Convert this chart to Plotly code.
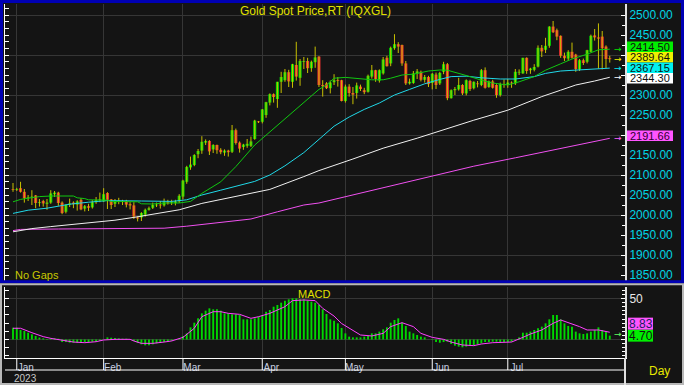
import plotly.graph_objects as go

# ---------------- data ----------------
months = ["Jan", "Feb", "Mar", "Apr", "May", "Jun", "Jul"]
month_idx = [1, 24, 45, 66, 88, 111, 131]

opens = [2065, 2063, 2067, 2058, 2042, 2044, 2049, 2030, 2035, 2028,
         2031, 2052, 2056, 2031, 2008, 2026, 2031, 2026, 2038, 2016,
         2022, 2019, 2032, 2037, 2034, 2055, 2039, 2028, 2035, 2033,
         2035, 2027, 2024, 1994, 1994, 2001, 2013, 2018, 2024, 2026,
         2024, 2032, 2030, 2030, 2034, 2046, 2083, 2119, 2125, 2152,
         2161, 2181, 2185, 2164, 2175, 2163, 2156, 2161, 2158, 2212,
         2181, 2170, 2173, 2173, 2190, 2233, 2233, 2250, 2281, 2302,
         2290, 2333, 2337, 2357, 2333, 2375, 2343, 2383, 2385, 2367,
         2382, 2396, 2325, 2329, 2317, 2332, 2337, 2337, 2285, 2321,
         2305, 2305, 2321, 2312, 2308, 2346, 2362, 2336, 2354, 2393,
         2379, 2417, 2427, 2425, 2379, 2329, 2330, 2354, 2358, 2338,
         2345, 2330, 2351, 2329, 2358, 2377, 2292, 2312, 2314, 2325,
         2304, 2335, 2317, 2329, 2325, 2362, 2320, 2334, 2325, 2300,
         2327, 2326, 2331, 2329, 2356, 2354, 2393, 2362, 2363, 2371,
         2418, 2413, 2423, 2471, 2462, 2448, 2398, 2391, 2408, 2401,
         2364, 2387, 2383, 2408, 2449, 2444, 2446, 2421, 2392]
highs = [2080, 2068, 2083, 2065, 2050, 2062, 2050, 2040, 2038, 2040,
         2062, 2060, 2058, 2034, 2026, 2041, 2034, 2037, 2042, 2025,
         2028, 2037, 2045, 2056, 2067, 2057, 2040, 2040, 2043, 2038,
         2038, 2032, 2032, 1996, 2007, 2016, 2021, 2031, 2031, 2035,
         2041, 2038, 2038, 2038, 2052, 2088, 2123, 2146, 2152, 2165,
         2197, 2189, 2187, 2177, 2176, 2167, 2164, 2163, 2225, 2216,
         2184, 2178, 2190, 2196, 2238, 2235, 2265, 2283, 2304, 2304,
         2333, 2358, 2365, 2363, 2378, 2433, 2390, 2395, 2393, 2386,
         2421, 2397, 2337, 2332, 2336, 2352, 2345, 2338, 2326, 2327,
         2320, 2331, 2326, 2318, 2351, 2375, 2363, 2364, 2395, 2398,
         2421, 2452, 2432, 2426, 2385, 2341, 2360, 2365, 2361, 2350,
         2348, 2355, 2356, 2358, 2383, 2380, 2314, 2320, 2343, 2327,
         2339, 2338, 2334, 2335, 2365, 2369, 2336, 2338, 2327, 2331,
         2339, 2340, 2334, 2365, 2364, 2393, 2394, 2368, 2377, 2424,
         2425, 2443, 2472, 2485, 2466, 2449, 2406, 2412, 2431, 2403,
         2390, 2391, 2413, 2451, 2465, 2479, 2460, 2424, 2398]
lows = [2058, 2060, 2056, 2031, 2035, 2025, 2017, 2021, 2021, 2013,
        2028, 2045, 2023, 2002, 2004, 2020, 2017, 2011, 2012, 2009,
        2010, 2016, 2028, 2032, 2033, 2015, 2015, 2020, 2027, 2025,
        2019, 2014, 1990, 1984, 1985, 1996, 2011, 2015, 2020, 2016,
        2021, 2026, 2025, 2024, 2030, 2039, 2078, 2113, 2122, 2142,
        2153, 2175, 2150, 2155, 2153, 2152, 2148, 2146, 2155, 2176,
        2156, 2163, 2168, 2170, 2188, 2230, 2229, 2243, 2274, 2281,
        2268, 2305, 2333, 2320, 2318, 2336, 2323, 2365, 2355, 2358,
        2368, 2320, 2296, 2315, 2304, 2325, 2321, 2284, 2281, 2296,
        2277, 2291, 2310, 2302, 2306, 2341, 2333, 2331, 2351, 2371,
        2372, 2413, 2405, 2373, 2325, 2326, 2328, 2340, 2334, 2331,
        2320, 2314, 2315, 2325, 2352, 2287, 2291, 2300, 2311, 2300,
        2299, 2310, 2314, 2319, 2322, 2316, 2318, 2316, 2293, 2296,
        2318, 2318, 2318, 2325, 2350, 2353, 2353, 2353, 2359, 2369,
        2395, 2405, 2418, 2455, 2437, 2393, 2385, 2385, 2391, 2358,
        2360, 2375, 2379, 2407, 2436, 2366, 2364, 2367, 2381]
closes = [2063, 2064, 2058, 2042, 2044, 2046, 2030, 2032, 2029, 2031,
          2054, 2056, 2030, 2005, 2026, 2029, 2027, 2034, 2014, 2022,
          2018, 2032, 2037, 2039, 2052, 2038, 2025, 2036, 2034, 2035,
          2026, 2024, 1996, 1991, 2005, 2013, 2017, 2025, 2026, 2024,
          2032, 2029, 2031, 2034, 2048, 2086, 2120, 2126, 2150, 2160,
          2183, 2185, 2159, 2175, 2162, 2157, 2161, 2157, 2212, 2180,
          2166, 2176, 2178, 2184, 2236, 2232, 2264, 2282, 2302, 2295,
          2333, 2345, 2357, 2334, 2377, 2346, 2385, 2383, 2367, 2383,
          2394, 2325, 2322, 2317, 2331, 2337, 2335, 2285, 2321, 2305,
          2301, 2324, 2315, 2307, 2348, 2362, 2340, 2362, 2389, 2372,
          2418, 2427, 2421, 2379, 2329, 2333, 2354, 2359, 2338, 2345,
          2327, 2353, 2325, 2355, 2377, 2292, 2312, 2315, 2325, 2304,
          2337, 2315, 2333, 2327, 2362, 2318, 2334, 2318, 2300, 2327,
          2325, 2331, 2329, 2358, 2357, 2393, 2360, 2366, 2370, 2418,
          2409, 2423, 2471, 2457, 2446, 2398, 2392, 2408, 2393, 2365,
          2387, 2380, 2412, 2448, 2444, 2441, 2417, 2390, 2389.64]

green_ma_idx = [0, 2, 4, 7, 10, 16, 17, 19, 20, 25, 26, 33, 34, 37, 40, 44, 47, 50, 55, 59,
                64, 68, 72, 77, 81, 83, 85, 88, 92, 95, 98, 100, 103, 106, 110, 113, 115, 117,
                118, 121, 124, 127, 131, 134, 138, 141, 145, 148, 152, 155, 158]
green_ma_val = [2033, 2039, 2042, 2046, 2047.5, 2047.5, 2043, 2041, 2038, 2037, 2034, 2033,
                2028, 2027.5, 2030, 2030, 2034, 2054, 2083, 2121, 2175, 2208, 2242, 2281, 2314,
                2325, 2342, 2344, 2340, 2338, 2338, 2342, 2350, 2352, 2360, 2362.5, 2362, 2357,
                2354, 2346, 2337, 2330, 2325, 2333, 2346, 2362, 2378, 2390, 2402, 2413, 2414.50]
cyan_ma_idx = [0, 4, 9, 15, 20, 25, 34, 42, 46, 50, 55, 59, 64, 68, 72, 77, 81, 85, 89, 93,
               97, 101, 105, 109, 113, 116, 120, 124, 129, 133, 138, 141, 145, 148, 152, 155, 158]
cyan_ma_val = [2004, 2012, 2017, 2027, 2032, 2036, 2035, 2034, 2038, 2050, 2062, 2072, 2084,
               2100, 2123, 2156, 2190, 2222, 2245, 2264, 2280, 2300, 2314, 2328, 2339, 2346,
               2347, 2343, 2340, 2340, 2346, 2354, 2360, 2362, 2363, 2366, 2367.15]
white_ma_idx = [0, 5, 10, 16, 22, 27, 32, 37, 40, 44, 50, 59, 68, 77, 81, 90, 98, 107, 115,
                122, 131, 135, 140, 145, 149, 154, 158]
white_ma_val = [1958, 1966, 1971, 1977, 1982, 1987, 1994, 2002, 2008, 2013, 2029, 2046, 2064,
                2096, 2111, 2140, 2167, 2192, 2217, 2237, 2262, 2277, 2296, 2312, 2325, 2335,
                2344.30]
magenta_ma_idx = [0, 2, 12, 40, 46, 52, 63, 70, 77, 81, 92, 102, 112, 122, 133, 145, 152, 158]
magenta_ma_val = [1961, 1964, 1965, 1967, 1972, 1979, 1990, 2008, 2025, 2030, 2055, 2077, 2100,
                  2122, 2143, 2167, 2180, 2191.66]

macd = [14.4, 14.4, 11.6, 10.4, 8.3, 6.3, 4.3, 2.3, 1.4, -0.6,
        1.4, 1.4, 1.0, -3.1, -3.1, -3.9, -3.9, -3.9, -3.5, -3.1,
        -3.1, -2.7, -2.7, -1.5, 0.2, 2.6, 2.2, 1.8, 1.4, 1.0,
        1.0, 0.2, -1.8, -3.9, -5.9, -7.1, -7.1, -5.9, -4.7, -3.9,
        -3.1, -2.3, -1.5, 0.2, 1.0, 4.3, 7.5, 14.8, 20.5, 25.8,
        31.9, 35.2, 38.0, 36.8, 36.8, 35.2, 31.9, 31.9, 30.7, 30.7,
        29.9, 24.6, 24.6, 24.6, 25.8, 27.8, 29.5, 33.9, 36.0, 40.0,
        42.1, 44.9, 47.4, 49.0, 50.2, 50.2, 49.0, 49.0, 47.4, 46.1,
        44.9, 42.1, 36.8, 31.1, 24.6, 23.0, 19.7, 14.0, 7.5, 3.5,
        2.6, 2.6, 2.6, 3.5, 4.3, 7.5, 7.5, 9.6, 12.4, 14.8,
        20.5, 23.8, 25.8, 20.5, 16.5, 9.6, 7.5, 5.5, 3.5, 2.6,
        0.2, -0.6, -3.1, -3.9, -3.1, -2.7, -5.5, -7.5, -8.7, -9.5,
        -8.7, -7.9, -7.1, -5.9, -4.7, -3.1, -3.1, -2.7, -2.7, -3.1,
        -3.1, -3.1, -2.7, -0.6, 2.6, 8.3, 8.3, 9.6, 11.6, 13.6,
        15.7, 19.7, 24.6, 29.9, 29.9, 24.6, 19.7, 16.5, 15.7, 9.6,
        7.5, 6.7, 7.5, 9.6, 11.6, 14.8, 11.6, 9.6, 4.70]
signal_idx = [0, 2, 5, 8, 10, 12, 16, 19, 22, 24, 27, 31, 32, 34, 37, 40, 42, 45, 48, 50,
              53, 55, 57, 60, 63, 65, 68, 72, 74, 77, 80, 82, 85, 87, 90, 92, 95, 98, 100, 103,
              106, 108, 111, 114, 116, 119, 122, 124, 127, 129, 132, 135, 137, 140, 143, 145,
              147, 150, 152, 155, 158]
signal_val = [13.7, 13.7, 8.3, 3.5, 1.4, 0.2, -3.1, -3.9, -2.7, -0.6, 0.2, 0.2, -1.8, -4.7,
              -4.7, -3.1, -1.8, 2.6, 13.7, 27.8, 33.9, 33.9, 31.9, 30.7, 25.8, 27.8, 31.9,
              40.0, 47.4, 48.2, 47.4, 38.0, 28.6, 19.5, 11.6, 5.5, 4.3, 7.5, 15.7, 20.5, 15.7,
              7.5, 2.6, 0.2, -3.1, -6.7, -7.5, -5.5, -3.9, -3.9, -3.1, 2.6, 6.7, 11.6, 19.7,
              23.8, 20.9, 15.7, 11.6, 11.6, 8.83]

price_ticks = [1850, 1900, 1950, 2000, 2050, 2100, 2150, 2200, 2250, 2300, 2350, 2400, 2450, 2500]
macd_ticks = [0, 50]

# ---------------- geometry helpers ----------------
W, H = 684, 385
def px(x):
    return x / W
def py(y):
    return 1 - y / H

X0_PX, X1_PX = 5, 625
BAR0_PX, BAR_STEP = 13, 3.777
x_range = [(X0_PX - BAR0_PX) / BAR_STEP, (X1_PX - BAR0_PX) / BAR_STEP]

P_TOP, P_BOT = 4, 281
price_range = [2500 - (P_BOT - 15) / 0.4, 2500 + (15 - P_TOP) / 0.4]
M_TOP, M_BOT = 287, 358
macd_range = [(339.5 - M_BOT) / 0.82, (339.5 - M_TOP) / 0.82]

def price_py(v):
    return P_BOT - (v - price_range[0]) / (price_range[1] - price_range[0]) * (P_BOT - P_TOP)
def macd_py(v):
    return M_BOT - (v - macd_range[0]) / (macd_range[1] - macd_range[0]) * (M_BOT - M_TOP)

BG = "#141414"
GRID = "#363636"
FONT = "Liberation Sans, Arial, sans-serif"
UP, DOWN, WICK = "#00e000", "#f03030", "#c8c000"
C_GREEN, C_CYAN, C_WHITE, C_MAG = "#10c810", "#20d8e8", "#f0f0f0", "#f050f0"

idx = list(range(len(closes)))

# value tags (right-hand boxes), stacked so they do not collide
price_tags = [(green_ma_val[-1], "#00ee00", UP), (closes[-1], "#f0f000", "#f0f000"),
              (cyan_ma_val[-1], "#00f0f0", "#00e8f0"), (white_ma_val[-1], "#ffffff", "#ffffff"),
              (magenta_ma_val[-1], "#ff55ff", "#ff60ff")]
TAG_H = 10.5
tag_centers = []
for v, _, _ in price_tags:
    c = price_py(v) - 2.5
    if tag_centers and c < tag_centers[-1] + TAG_H:
        c = tag_centers[-1] + TAG_H
    tag_centers.append(c)

def hidden(v):
    # tick label covered by a value box
    return any(abs(price_py(v) - c) < 5 for c in tag_centers)
price_ticktext = ["" if hidden(v) else f"{v:.2f}" for v in price_ticks]

fig = go.Figure()

# wicks
wx, wy = [], []
for i, (lo, hi) in enumerate(zip(lows, highs)):
    wx += [i, i, None]
    wy += [lo, hi, None]
fig.add_trace(go.Scatter(x=wx, y=wy, mode="lines", line=dict(color=WICK, width=1),
                         hoverinfo="skip", showlegend=False, xaxis="x", yaxis="y"))
# bodies
base = [min(o, c) for o, c in zip(opens, closes)]
height = [max(abs(c - o), 2) for o, c in zip(opens, closes)]
colors = [UP if c >= o else DOWN for o, c in zip(opens, closes)]
fig.add_trace(go.Bar(x=idx, y=height, base=base, width=0.8, marker=dict(color=colors, line=dict(width=0)),
                     showlegend=False, xaxis="x", yaxis="y"))
# moving averages
for xs, ys, col in [(magenta_ma_idx, magenta_ma_val, C_MAG), (white_ma_idx, white_ma_val, C_WHITE),
                    (cyan_ma_idx, cyan_ma_val, C_CYAN), (green_ma_idx, green_ma_val, C_GREEN)]:
    fig.add_trace(go.Scatter(x=xs, y=ys, mode="lines", line=dict(color=col, width=1),
                             showlegend=False, xaxis="x", yaxis="y"))
# invisible trace to activate left price axis
fig.add_trace(go.Scatter(x=idx, y=closes, mode="lines", line=dict(width=0), opacity=0,
                         hoverinfo="skip", showlegend=False, xaxis="x", yaxis="y3"))

# MACD
fig.add_trace(go.Bar(x=idx, y=macd, width=0.5, marker=dict(color="#00d800", line=dict(width=0)),
                     showlegend=False, xaxis="x2", yaxis="y2"))
fig.add_trace(go.Scatter(x=signal_idx, y=signal_val, mode="lines", line=dict(color="#ff40ff", width=1),
                         showlegend=False, xaxis="x2", yaxis="y2"))
fig.add_trace(go.Scatter(x=idx, y=macd, mode="lines", line=dict(width=0), opacity=0,
                         hoverinfo="skip", showlegend=False, xaxis="x2", yaxis="y4"))

xdom = [px(X0_PX), px(X1_PX)]
fig.update_layout(
    width=W, height=H, autosize=False,
    margin=dict(l=0, r=0, t=0, b=0),
    paper_bgcolor=BG, plot_bgcolor=BG,
    font=dict(family=FONT),
    showlegend=False, hovermode=False,
    barmode="overlay",
    xaxis=dict(domain=xdom, range=x_range, anchor="y", tickmode="array", tickvals=month_idx,
               showticklabels=False, ticks="", showgrid=True, gridcolor=GRID, gridwidth=1,
               zeroline=False, showline=False, fixedrange=True),
    yaxis=dict(domain=[py(P_BOT), py(P_TOP)], range=price_range, anchor="x", side="right",
               tickmode="array", tickvals=price_ticks, ticktext=price_ticktext,
               tickfont=dict(color="#00d4e4", size=12, family=FONT),
               ticks="inside", ticklen=4, tickcolor="#ffffff", tickwidth=1,
               minor=dict(tickmode="linear", dtick=25, tick0=1850, ticks="inside", ticklen=3,
                          tickcolor="#ffffff", showgrid=False),
               showline=True, linecolor="#e0e0e0", linewidth=2, showgrid=False, zeroline=False),
    yaxis3=dict(overlaying="y", anchor="x", side="left", range=price_range,
                tickmode="linear", tick0=1900, dtick=100, showticklabels=False,
                ticks="inside", ticklen=4, tickcolor="#ffffff",
                minor=dict(dtick=100 / 6, tick0=1900, ticks="inside", ticklen=4, tickcolor="#ffffff", showgrid=False),
                showgrid=True, gridcolor=GRID, gridwidth=1, zeroline=False,
                showline=True, linecolor="#ffffff", linewidth=1),
    xaxis2=dict(domain=xdom, range=x_range, anchor="y2", tickmode="array", tickvals=month_idx,
                ticktext=months, ticks="", ticklabelshift=9,
                tickfont=dict(color="#c8d0e0", size=10, family=FONT),
                showgrid=True, gridcolor=GRID, gridwidth=1, zeroline=False,
                showline=True, linecolor="#ffffff", linewidth=1),
    yaxis2=dict(domain=[py(M_BOT), py(M_TOP)], range=macd_range, anchor="x2", side="right",
                tickmode="array", tickvals=macd_ticks, ticktext=["", "50"],
                tickfont=dict(color="#e8e8e8", size=12, family=FONT),
                ticks="inside", ticklen=4, tickcolor="#ffffff",
                minor=dict(tickmode="linear", dtick=5, tick0=0, ticks="inside", ticklen=3,
                           tickcolor="#ffffff", showgrid=False),
                showline=True, linecolor="#e0e0e0", linewidth=2,
                showgrid=True, gridcolor=GRID, gridwidth=1, zeroline=False),
    yaxis4=dict(overlaying="y2", anchor="x2", side="left", range=macd_range,
                tickmode="linear", tick0=0, dtick=10, showticklabels=False,
                ticks="inside", ticklen=4, tickcolor="#ffffff", showgrid=False, zeroline=False,
                showline=True, linecolor="#ffffff", linewidth=1),
)

shapes = []
# panel frames
shapes.append(dict(type="rect", xref="paper", yref="paper", x0=px(1.5), x1=px(682.5), y0=py(281.8), y1=py(1.5),
                   line=dict(color="#0000b4", width=3), layer="above"))
shapes.append(dict(type="rect", xref="paper", yref="paper", x0=px(1), x1=px(683), y0=py(384), y1=py(284.3),
                   line=dict(color="#b8b8b8", width=2), layer="above"))
# date strip
shapes.append(dict(type="line", xref="paper", yref="paper", x0=px(X0_PX), x1=px(X1_PX), y0=py(370), y1=py(370),
                   line=dict(color="#ffffff", width=1)))
for m in month_idx:
    shapes.append(dict(type="line", xref="x2", yref="paper", x0=m, x1=m, y0=py(358.5), y1=py(370),
                       line=dict(color="#ffffff", width=1)))
shapes.append(dict(type="line", xref="paper", yref="paper", x0=px(X1_PX), x1=px(X1_PX), y0=py(385), y1=py(M_BOT),
                   line=dict(color="#e0e0e0", width=2)))

annotations = []
for (v, bg, arrow_col), cy in zip(price_tags, tag_centers):
    shapes.append(dict(type="rect", xref="paper", yref="paper", x0=px(627), x1=px(673),
                       y0=py(cy + TAG_H / 2), y1=py(cy - TAG_H / 2), fillcolor=bg, line=dict(width=0),
                       layer="above"))
    annotations.append(dict(xref="paper", yref="paper", x=px(650), y=py(cy), text=f"{v:.2f}",
                            showarrow=False, xanchor="center", yanchor="middle", borderpad=0,
                            font=dict(size=11, color="#300030" if bg == "#ff55ff" else "#101010", family=FONT)))
    annotations.append(dict(xref="paper", yref="paper", x=px(618), y=py(price_py(v)), text="→",
                            showarrow=False, xanchor="center", yanchor="middle", borderpad=0,
                            font=dict(size=9, color=arrow_col, family="DejaVu Sans")))
# macd value boxes
mcy = macd_py(macd[-1])
for (v, bg), cy in [((macd[-1], "#00ee00"), mcy), ((signal_val[-1], "#ff55ff"), mcy - 12)]:
    shapes.append(dict(type="rect", xref="paper", yref="paper", x0=px(628), x1=px(653),
                       y0=py(cy + 6), y1=py(cy - 6), fillcolor=bg, line=dict(width=0), layer="above"))
    annotations.append(dict(xref="paper", yref="paper", x=px(640.5), y=py(cy), text=f"{v:.2f}",
                            showarrow=False, xanchor="center", yanchor="middle", borderpad=0,
                            font=dict(size=12, color="#202060" if bg == "#ff55ff" else "#101010", family=FONT)))
annotations.append(dict(xref="paper", yref="paper", x=px(618), y=py(mcy - 1.5), text="→",
                        showarrow=False, xanchor="center", yanchor="middle", borderpad=0,
                        font=dict(size=9, color="#60ff60", family="DejaVu Sans")))

# texts
annotations += [
    dict(xref="paper", yref="paper", x=px(315), y=py(11), text="Gold Spot Price,RT (IQXGL)",
         showarrow=False, xanchor="center", yanchor="middle", font=dict(size=12, color="#e0e000", family=FONT)),
    dict(xref="paper", yref="paper", x=px(13), y=py(275), text="No Gaps",
         showarrow=False, xanchor="left", yanchor="middle", font=dict(size=11, color="#c8c800", family=FONT)),
    dict(xref="paper", yref="paper", x=px(314), y=py(294), text="MACD",
         showarrow=False, xanchor="center", yanchor="middle", font=dict(size=11, color="#e0e000", family=FONT)),
    dict(xref="paper", yref="paper", x=px(13), y=py(378.5), text="2023", borderpad=0,
         showarrow=False, xanchor="left", yanchor="middle", font=dict(size=10, color="#c8c8c8", family=FONT)),
    dict(xref="paper", yref="paper", x=px(659), y=py(371), text="Day",
         showarrow=False, xanchor="center", yanchor="middle", font=dict(size=12, color="#e8e800", family=FONT)),
]

fig.update_layout(shapes=shapes, annotations=annotations)
fig.write_html("out.html", config={"displayModeBar": False, "staticPlot": True},
               post_script="document.body.style.margin='0px';document.body.style.padding='0px';"
                           "document.body.style.overflow='hidden';document.body.style.background='#141414';")
